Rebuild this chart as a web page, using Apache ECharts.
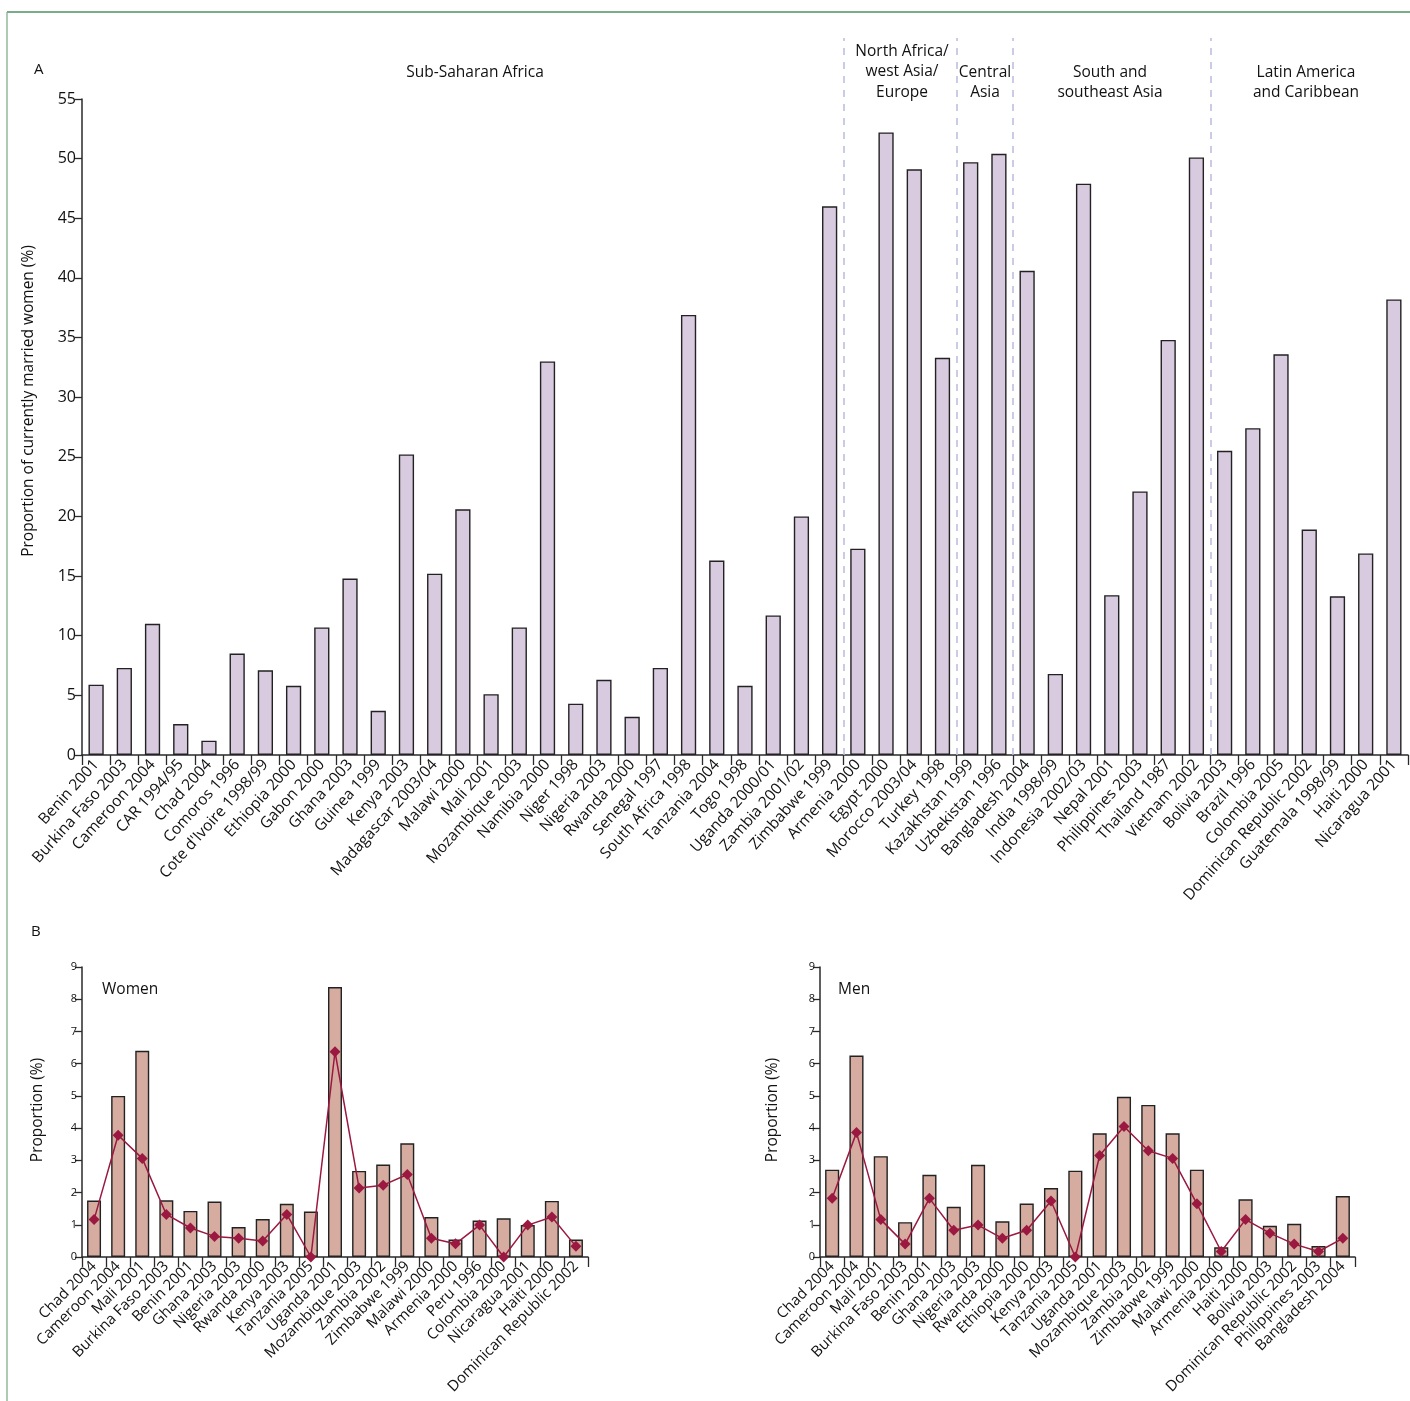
<!DOCTYPE html>
<html>
<head>
<meta charset="utf-8">
<script src="https://cdn.jsdelivr.net/npm/echarts@6/dist/echarts.min.js"></script>
<style>html,body{margin:0;padding:0;background:#fff}#c{width:1410px;height:1401px}</style>
</head>
<body>
<div id="c"></div>
<script>
// ---------- Panel A data ----------
const catA = ["Benin 2001","Burkina Faso 2003","Cameroon 2004","CAR 1994/95","Chad 2004","Comoros 1996","Cote d'Ivoire 1998/99","Ethiopia 2000","Gabon 2000","Ghana 2003","Guinea 1999","Kenya 2003","Madagascar 2003/04","Malawi 2000","Mali 2001","Mozambique 2003","Namibia 2000","Niger 1998","Nigeria 2003","Rwanda 2000","Senegal 1997","South Africa 1998","Tanzania 2004","Togo 1998","Uganda 2000/01","Zambia 2001/02","Zimbabwe 1999","Armenia 2000","Egypt 2000","Morocco 2003/04","Turkey 1998","Kazakhstan 1999","Uzbekistan 1996","Bangladesh 2004","India 1998/99","Indonesia 2002/03","Nepal 2001","Philippines 2003","Thailand 1987","Vietnam 2002","Bolivia 2003","Brazil 1996","Colombia 2005","Dominican Republic 2002","Guatemala 1998/99","Haiti 2000","Nicaragua 2001"];
const valA = [5.9,7.3,11.0,2.6,1.2,8.5,7.1,5.8,10.7,14.8,3.7,25.2,15.2,20.6,5.1,10.7,33.0,4.3,6.3,3.2,7.3,36.9,16.3,5.8,11.7,20.0,46.0,17.3,52.2,49.1,33.3,49.7,50.4,40.6,6.8,47.9,13.4,22.1,34.8,50.1,25.5,27.4,33.6,18.9,13.3,16.9,38.2];
const regionBreaks = [27,31,33,40];
const regionNames = ["Sub-Saharan Africa","North Africa/\nwest Asia/\nEurope","Central\nAsia","South and\nsoutheast Asia","Latin America\nand Caribbean"];
const ticksA = [0,5,10,15,20,25,30,35,40,45,50,55];

// ---------- Panel B data ----------
const catW = ["Chad 2004","Cameroon 2004","Mali 2001","Burkina Faso 2003","Benin 2001","Ghana 2003","Nigeria 2003","Rwanda 2000","Kenya 2003","Tanzania 2005","Uganda 2001","Mozambique 2003","Zambia 2002","Zimbabwe 1999","Malawi 2000","Armenia 2000","Peru 1996","Colombia 2000","Nicaragua 2001","Haiti 2000","Dominican Republic 2002"];
const barW = [1.75,5.0,6.4,1.76,1.43,1.72,0.93,1.18,1.65,1.41,8.38,2.67,2.87,3.53,1.24,0.54,1.13,1.20,0.99,1.74,0.54];
const lineW = [1.16,3.78,3.06,1.32,0.90,0.64,0.58,0.50,1.32,0.0,6.37,2.14,2.23,2.56,0.58,0.41,0.99,0.0,0.99,1.24,0.33];

const catM = ["Chad 2004","Cameroon 2004","Mali 2001","Burkina Faso 2003","Benin 2001","Ghana 2003","Nigeria 2003","Rwanda 2000","Ethiopia 2000","Kenya 2003","Tanzania 2005","Uganda 2001","Mozambique 2003","Zambia 2002","Zimbabwe 1999","Malawi 2000","Armenia 2000","Haiti 2000","Bolivia 2003","Dominican Republic 2002","Philippines 2003","Bangladesh 2004"];
const barM = [2.71,6.25,3.13,1.08,2.55,1.56,2.86,1.11,1.66,2.14,2.68,3.84,4.97,4.72,3.84,2.71,0.30,1.79,0.97,1.03,0.34,1.89];
const lineM = [1.82,3.86,1.16,0.40,1.82,0.83,0.99,0.58,0.83,1.74,0.0,3.15,4.05,3.30,3.06,1.65,0.17,1.16,0.74,0.40,0.17,0.58];

const FONT = "'Open Sans','Noto Sans',sans-serif";
const TXT = '#111';
const AX = '#2a2a2a';

const chart = echarts.init(document.getElementById('c'), null, {renderer:'canvas'});

function catAxis(gi, data, fs, rot) {
  return {
    type:'category', gridIndex:gi, data:data,
    axisLine:{show:true, lineStyle:{color:AX, width:1.5}},
    axisTick:{show:true, length:10, lineStyle:{color:AX, width:1.3}},
    axisLabel:{rotate:rot, interval:0, fontSize:fs, fontFamily:FONT, color:TXT, margin:7}
  };
}
function valAxis(gi, max, interval, fs, margin) {
  return {
    type:'value', gridIndex:gi, min:0, max:max, interval:interval,
    splitLine:{show:false},
    axisLine:{show:true, lineStyle:{color:AX, width:1.5}},
    axisTick:{show:true, length:7, lineStyle:{color:AX, width:1.3}},
    axisLabel:{fontSize:fs, fontFamily:FONT, color:TXT, margin:margin}
  };
}

const regionCenters = [475, 902, 985, 1110, 1306];
const regionTops = [62, 41, 62, 62, 62];

const graphics = [
  {type:'line', shape:{x1:7,y1:12,x2:1410,y2:12}, style:{stroke:'#4e9160', lineWidth:1.3}},
  {type:'line', shape:{x1:7,y1:12,x2:7,y2:1401}, style:{stroke:'#7fb08c', lineWidth:1.3}},
  {type:'text', left:34, top:62, style:{text:'A', fontSize:15, fontFamily:FONT, fill:TXT}},
  {type:'text', left:31, top:924, style:{text:'B', fontSize:15, fontFamily:FONT, fill:TXT}},
  {type:'text', x:29, y:401, rotation:Math.PI/2, style:{text:'Proportion of currently married women (%)', fontSize:15.5, fontFamily:FONT, fill:TXT, align:'center', verticalAlign:'middle'}},
  {type:'text', x:38, y:1110, rotation:Math.PI/2, style:{text:'Proportion (%)', fontSize:15.5, fontFamily:FONT, fill:TXT, align:'center', verticalAlign:'middle'}},
  {type:'text', x:773, y:1110, rotation:Math.PI/2, style:{text:'Proportion (%)', fontSize:15.5, fontFamily:FONT, fill:TXT, align:'center', verticalAlign:'middle'}},
  {type:'text', left:102, top:982, style:{text:'Women', fontSize:15.5, fontFamily:FONT, fill:TXT}},
  {type:'text', left:838, top:982, style:{text:'Men', fontSize:15.5, fontFamily:FONT, fill:TXT}}
];
regionNames.forEach((n,i)=>{
  graphics.push({type:'text', x:regionCenters[i], y:regionTops[i], style:{text:n, fontSize:15.5, lineHeight:20.5, fontFamily:FONT, fill:TXT, align:'center', verticalAlign:'top'}});
});

const option = {
  backgroundColor:'#fff',
  animation:false,
  grid:[
    {left:82, right:2, top:99, bottom:646},
    {left:82, right:2, top:38, bottom:646},
    {left:82, right:822, top:967, bottom:144},
    {left:820, right:55, top:967, bottom:144}
  ],
  xAxis:[
    catAxis(0, catA, 15.5, 48),
    {type:'value', gridIndex:1, min:0, max:catA.length, show:false},
    catAxis(2, catW, 15, 45),
    catAxis(3, catM, 15, 45)
  ],
  yAxis:[
    valAxis(0, 55, 5, 16, 6),
    {type:'value', gridIndex:1, min:0, max:1, show:false},
    valAxis(2, 9, 1, 11, 5),
    valAxis(3, 9, 1, 11, 5)
  ],
  series:[
    {type:'bar', xAxisIndex:0, yAxisIndex:0, data:valA, barWidth:'54%',
     itemStyle:{color:'#d8cbe0', borderColor:'#222', borderWidth:1.4}},
    {type:'line', xAxisIndex:1, yAxisIndex:1, data:[], silent:true,
     markLine:{silent:true, symbol:['none','none'], label:{show:false},
       lineStyle:{type:[7,7], color:'#b9bbdc', width:1.5},
       data:regionBreaks.map(v=>({xAxis:v}))}},
    {type:'bar', xAxisIndex:2, yAxisIndex:2, data:barW, barWidth:'58%',
     itemStyle:{color:'#d6aca1', borderColor:'#222', borderWidth:1.4}},
    {type:'line', xAxisIndex:2, yAxisIndex:2, data:lineW, symbol:'diamond', symbolSize:11,
     lineStyle:{color:'#9b1840', width:1.5}, itemStyle:{color:'#9b1840'}},
    {type:'bar', xAxisIndex:3, yAxisIndex:3, data:barM, barWidth:'58%',
     itemStyle:{color:'#d6aca1', borderColor:'#222', borderWidth:1.4}},
    {type:'line', xAxisIndex:3, yAxisIndex:3, data:lineM, symbol:'diamond', symbolSize:11,
     lineStyle:{color:'#9b1840', width:1.5}, itemStyle:{color:'#9b1840'}}
  ],
  graphic:graphics
};
chart.setOption(option);
</script>
</body>
</html>
